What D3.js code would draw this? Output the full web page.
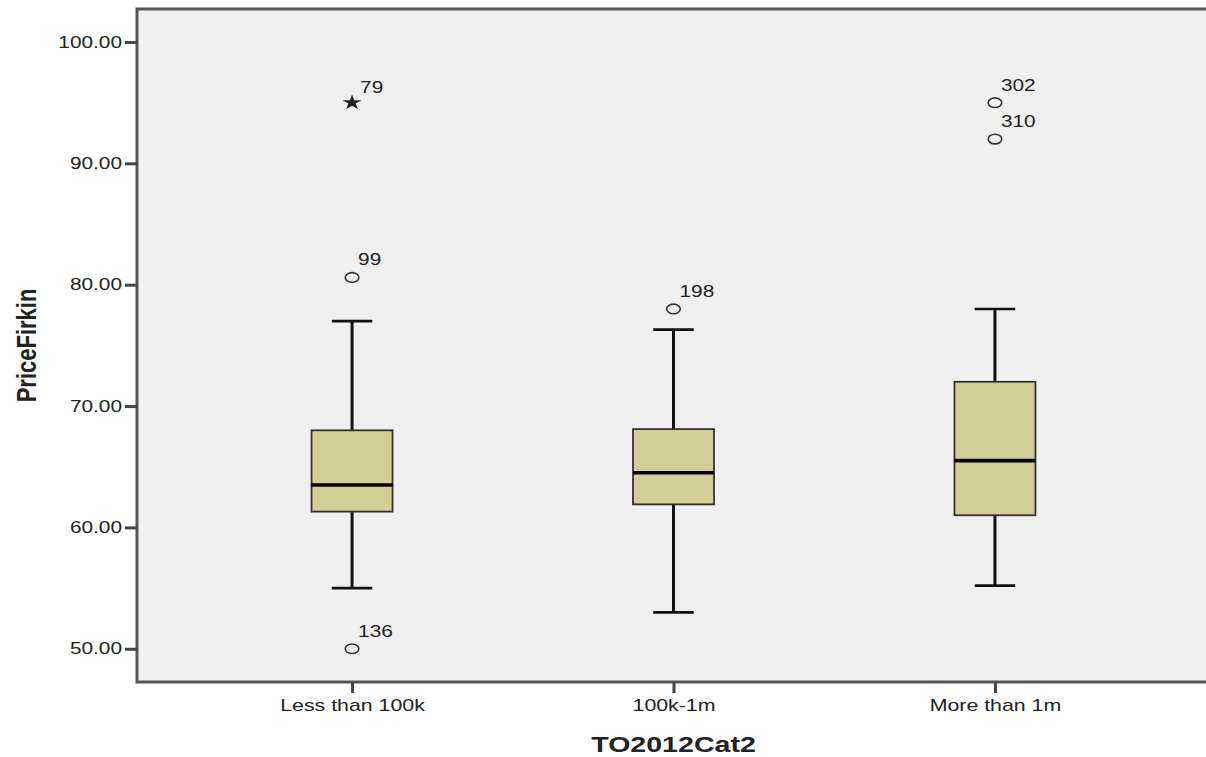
<!DOCTYPE html>
<html>
<head>
<meta charset="utf-8">
<script src="https://cdn.jsdelivr.net/npm/d3@7"></script>
<style>
  html, body { margin: 0; padding: 0; background: #ffffff; }
  svg { display: block; }
  text { font-family: "Liberation Sans", Arial, sans-serif; fill: #222; }
</style>
</head>
<body>
<svg id="chart" width="1206" height="757"></svg>
<script>
// ---- data ----
const categories   = ["Less than 100k", "100k-1m", "More than 1m"];
const whiskerLow   = [55.0, 53.0, 55.2];
const quartile1    = [61.3, 61.9, 61.0];
const medians      = [63.5, 64.5, 65.5];
const quartile3    = [68.0, 68.1, 72.0];
const whiskerHigh  = [77.0, 76.3, 78.0];

const outlierCategory = ["Less than 100k", "Less than 100k", "Less than 100k", "100k-1m", "More than 1m", "More than 1m"];
const outlierValue    = [95.0, 80.6, 50.0, 78.0, 95.0, 92.0];
const outlierLabel    = ["79", "99", "136", "198", "302", "310"];
const outlierType     = ["star", "circle", "circle", "circle", "circle", "circle"];

const yTicks = [50, 60, 70, 80, 90, 100];
const xTitle = "TO2012Cat2";
const yTitle = "PriceFirkin";

// ---- layout ----
const SX = 1.27; // horizontal stretch of the reference text
const svg = d3.select("#chart");

const x = d3.scalePoint().domain(categories).range([137, 1210]).padding(0.669);
const y = d3.scaleLinear().domain([47.26, 102.72]).range([682, 9]);

const boxW = x.step() * 0.252;
const capW = boxW / 2;

// plot background + frame
const [x0, x1] = x.range();
const [yb, yt] = y.range();
svg.append("rect")
  .attr("x", x0).attr("y", yt)
  .attr("width", x1 - x0).attr("height", yb - yt)
  .attr("fill", "#f0f0f0")
  .attr("stroke", "#555").attr("stroke-width", 3);

// y axis
const yAxis = svg.append("g")
  .attr("transform", `translate(${x0},0)`)
  .call(d3.axisLeft(y).tickValues(yTicks).tickFormat(d3.format(".2f")).tickSize(12).tickPadding(3));
yAxis.select(".domain").remove();
yAxis.selectAll(".tick line").attr("stroke", "#444").attr("stroke-width", 3);
yAxis.selectAll(".tick text")
  .attr("font-size", 16.4)
  .attr("font-family", "Liberation Sans, Arial, sans-serif")
  .attr("fill", "#1a1a1a")
  .attr("x", -15 / SX)
  .attr("transform", `scale(${SX},1)`);

// x axis
const xAxis = svg.append("g")
  .attr("transform", `translate(0,${yb})`)
  .call(d3.axisBottom(x).tickSize(11).tickPadding(6));
xAxis.select(".domain").remove();
xAxis.selectAll(".tick line").attr("stroke", "#444").attr("stroke-width", 3);
xAxis.selectAll(".tick text")
  .attr("font-size", 16.8)
  .attr("font-family", "Liberation Sans, Arial, sans-serif")
  .attr("fill", "#1a1a1a")
  .attr("transform", `scale(${SX},1)`);

// boxes
const boxes = categories.map((c, i) => ({
  c, lo: whiskerLow[i], q1: quartile1[i], med: medians[i], q3: quartile3[i], hi: whiskerHigh[i]
}));

const g = svg.append("g");
const bg = g.selectAll("g.box").data(boxes).join("g").attr("class", "box");

// whisker stems
bg.append("line")
  .attr("x1", d => x(d.c)).attr("x2", d => x(d.c))
  .attr("y1", d => y(d.hi)).attr("y2", d => y(d.q3))
  .attr("stroke", "#111").attr("stroke-width", 3);
bg.append("line")
  .attr("x1", d => x(d.c)).attr("x2", d => x(d.c))
  .attr("y1", d => y(d.q1)).attr("y2", d => y(d.lo))
  .attr("stroke", "#111").attr("stroke-width", 3);
// caps
bg.append("line")
  .attr("x1", d => x(d.c) - capW / 2).attr("x2", d => x(d.c) + capW / 2)
  .attr("y1", d => y(d.hi)).attr("y2", d => y(d.hi))
  .attr("stroke", "#111").attr("stroke-width", 2.6);
bg.append("line")
  .attr("x1", d => x(d.c) - capW / 2).attr("x2", d => x(d.c) + capW / 2)
  .attr("y1", d => y(d.lo)).attr("y2", d => y(d.lo))
  .attr("stroke", "#111").attr("stroke-width", 2.6);
// box
bg.append("rect")
  .attr("x", d => x(d.c) - boxW / 2).attr("width", boxW)
  .attr("y", d => y(d.q3)).attr("height", d => y(d.q1) - y(d.q3))
  .attr("fill", "#d3ce97").attr("stroke", "#333").attr("stroke-width", 1.8);
// median
bg.append("line")
  .attr("x1", d => x(d.c) - boxW / 2).attr("x2", d => x(d.c) + boxW / 2)
  .attr("y1", d => y(d.med)).attr("y2", d => y(d.med))
  .attr("stroke", "#000").attr("stroke-width", 3.6);

// outliers
const outs = outlierValue.map((v, i) => ({ c: outlierCategory[i], v, label: outlierLabel[i], type: outlierType[i] }));
const og = g.selectAll("g.out").data(outs).join("g").attr("class", "out")
  .attr("transform", d => `translate(${x(d.c)},${y(d.v)})`);

og.filter(d => d.type === "circle").append("ellipse")
  .attr("rx", 6.8).attr("ry", 4.8)
  .attr("fill", "none").attr("stroke", "#333").attr("stroke-width", 1.6);

og.filter(d => d.type === "star").append("path")
  .attr("d", d3.symbol().type(d3.symbolStar).size(70)())
  .attr("transform", `scale(${SX},1)`)
  .attr("fill", "#222");

og.append("text")
  .attr("font-size", 16.4)
  .attr("transform", d => d.type === "star" ? `translate(8,-10) scale(${SX},1)` : `translate(6,-12) scale(${SX},1)`)
  .text(d => d.label);

// axis titles
svg.append("text")
  .attr("transform", `translate(${(x0 + x1) / 2 - 0},752) scale(${SX},1)`)
  .attr("x", 0)
  .attr("text-anchor", "middle")
  .attr("font-size", 22.5)
  .attr("font-weight", "bold")
  .text(xTitle);

svg.append("text")
  .attr("transform", `translate(36,${(yb + yt) / 2}) scale(${SX},1) rotate(-90)`)
  .attr("text-anchor", "middle")
  .attr("font-size", 22)
  .attr("font-weight", "bold")
  .text(yTitle);
</script>
</body>
</html>
